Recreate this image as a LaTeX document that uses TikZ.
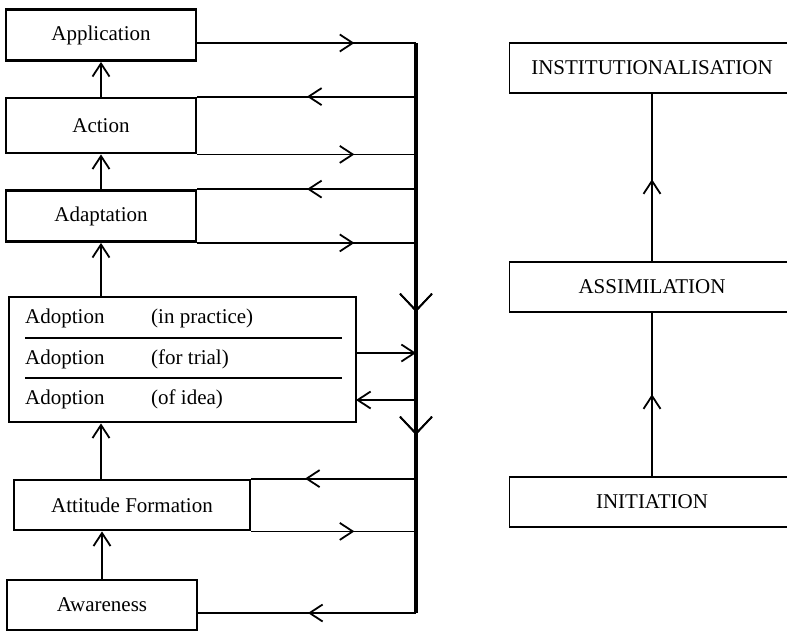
\documentclass[tikz,border=0pt]{standalone}
\usepackage{fontspec}
\setmainfont{Liberation Serif}
\usetikzlibrary{positioning}
\usetikzlibrary{calc}
\usetikzlibrary{arrows.meta}
\usetikzlibrary{decorations.markings}

\tikzset{
	>={Straight Barb[length=13pt,width=17pt]},
	stage/.style={draw, line width=2.8pt, minimum width=190pt, minimum height=51pt, inner sep=0pt, font=\fontsize{21}{25}\selectfont},
	phase/.style={draw, line width=1.5pt, minimum width=285pt, minimum height=50pt, inner sep=0pt, font=\fontsize{21}{25}\selectfont},
	row/.style={anchor=west, inner sep=0pt, font=\fontsize{21}{25}\selectfont},
	link/.style={line width=1.8pt},
	bus/.style={line width=3.2pt},
	midarrow/.style={decoration={markings, mark=at position #1 with {\arrow{>}}}, postaction={decorate}},
	downarrow/.style={decoration={markings, mark=at position #1 with {\arrow{Straight Barb[length=17pt,width=32pt,line width=1.8pt]}}}, postaction={decorate}}
}

\begin{document}
\begin{tikzpicture}[x=1pt,y=-1pt]
	\useasboundingbox (0,0) rectangle (787,632);

	% left column
	\node[stage] (app) at (101,35) {Application};
	\node[stage, minimum height=55pt] (action) at (101,125.5) {Action};
	\node[stage] (adapt) at (101,216) {Adaptation};
	\node[stage, minimum width=347pt, minimum height=125pt] (adopt) at (182.5,359.5) {};
	\node[stage, minimum width=236pt, minimum height=50pt] (attitude) at (132,505) {Attitude Formation};
	\node[stage, minimum height=50pt] (aware) at (102,605) {Awareness};

	\node[row] (prac) at (25,318) {Adoption};
	\node[row] (pracq) at (151,318) {(in practice)};
	\node[row] (trial) at (25,359) {Adoption};
	\node[row] (trialq) at (151,359) {(for trial)};
	\node[row] (idea) at (25,399) {Adoption};
	\node[row] (ideaq) at (151,399) {(of idea)};
	\draw[link] (25,338) -- (342,338);
	\draw[link] (25,378) -- (342,378);

	% feedback bus
	\coordinate (bustop) at (416,43);
	\coordinate (busbot) at (416,613);
	\coordinate (out) at (356,353);
	\coordinate (in) at (356,400);
	\draw[bus, downarrow=269pt, downarrow=392pt] (bustop) -- (busbot);

	\draw[link, midarrow=157pt] ([yshift=-8pt]app.east) -- (bustop);
	\draw[link, midarrow=109pt] (bustop |- action.north) -- (action.north east);
	\draw[link, midarrow=157pt] (action.south east) -- (bustop |- action.south);
	\draw[link, midarrow=109pt] (bustop |- adapt.north) -- (adapt.north east);
	\draw[link, midarrow=157pt] (adapt.south east) -- (bustop |- adapt.south);
	\draw[link, ->] (out) -- (bustop |- out);
	\draw[link, ->] (bustop |- in) -- (in);
	\draw[link, midarrow=111pt] (bustop |- attitude.north) -- (attitude.north east);
	\draw[link, midarrow=103pt] (attitude.south east) -- (bustop |- attitude.south);
	\draw[link, midarrow=108pt] (busbot) -- ([yshift=-8pt]aware.east);

	% stages upward
	\draw[link, ->] (action.north) -- (app.south);
	\draw[link, ->] (adapt.north) -- (action.south);
	\draw[link, ->] (adopt.north -| adapt.south) -- (adapt.south);
	\draw[link, ->] (attitude.north -| app.south) -- (adopt.south -| app.south);
	\draw[link, ->] (aware.north) -- (aware.north |- attitude.south);

	% right column
	\node[phase] (inst) at (652,68) {INSTITUTIONALISATION};
	\node[phase] (assim) at (652,287) {ASSIMILATION};
	\node[phase] (init) at (652,502) {INITIATION};
	\draw[link, midarrow=82pt] (init.north) -- (assim.south);
	\draw[link, midarrow=82pt] (assim.north) -- (inst.south);
\end{tikzpicture}
\end{document}
